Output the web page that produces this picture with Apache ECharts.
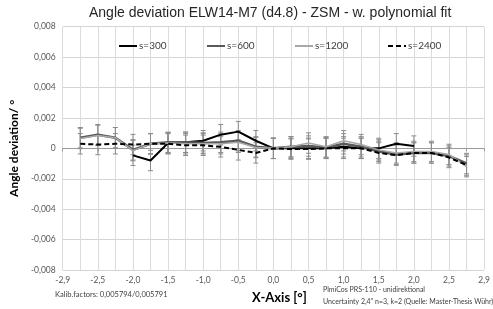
<!DOCTYPE html>
<html><head><meta charset="utf-8">
<script src="https://cdn.jsdelivr.net/npm/echarts@6/dist/echarts.min.js"></script>
<style>html,body{margin:0;padding:0;background:#fff}#c{width:493px;height:309px}</style>
</head><body><div id="c"></div>
<script>
// ---- data ----
const categories = [-2.9,-2.75,-2.5,-2.25,-2.0,-1.75,-1.5,-1.25,-1.0,-0.75,-0.5,-0.25,0,0.25,0.5,0.75,1.0,1.25,1.5,1.75,2.0,2.25,2.5,2.75,2.9];
const s300  = [null,null,null,null,-0.00046,-0.0008,0.00035,0.0004,0.0005,0.0009,0.0011,0.0005,0,0,0,0,0.0001,0,0,0.0003,0.00015,null,null,null,null];
const s600  = [null,0.0007,0.0009,0.0007,-0.0001,0.0003,0.0004,0.0004,0.00035,0.0004,0.0005,0.0001,0,0.0001,0.00015,0.00005,0.0003,0.0001,-0.0002,-0.0004,-0.0003,-0.0003,-0.0005,-0.001,null];
const s1200 = [null,0.00065,0.00085,0.0007,-0.00015,0.0003,0.00035,0.0003,0.0003,0.0003,0.0004,0.00005,0,0.0001,0.00035,0.0001,0.0005,0.00025,-0.0001,-0.0003,-0.0002,-0.0002,-0.0004,-0.0012,null];
const s2400 = [null,0.0003,0.00025,0.0003,0.00025,0.0003,0.0003,0.0002,0.0002,0.0001,-0.0001,-0.0003,0,-0.00005,-0.00005,0,0,0,-0.0003,-0.00045,-0.0003,-0.0003,-0.0006,-0.0011,null];
const uncertainty = 0.00067;
const seriesNames = ['s=300','s=600','s=1200','s=2400'];
const yTicks = {min:-0.008, max:0.008, step:0.002};
const titleText = 'Angle deviation ELW14-M7 (d4.8) - ZSM - w. polynomial fit';
const yName = 'Angle deviation/ °';
const xName = 'X-Axis [°]';
const noteLeft = 'Kalib.factors: 0,005794/0,005791';
const noteRight1 = 'PlmiCos PRS-110 - unidirektional';
const noteRight2 = 'Uncertainty 2,4" n=3, k=2 (Quelle: Master-Thesis Wühr)';

// ---- chart ----
const F = 'Lato, "Open Sans", sans-serif';
const chart = echarts.init(document.getElementById('c'), null, {renderer:'canvas'});
function errData(arr){
  const out=[];
  arr.forEach((v,i)=>{ if(v!==null) out.push([i, v-uncertainty, v+uncertainty]); });
  return out;
}
function errSeries(arr){
  return {
    type:'custom', silent:true, z:1, xAxisIndex:0, yAxisIndex:0,
    data: errData(arr),
    renderItem: function(params, api){
      const lo = api.coord([api.value(0), api.value(1)]);
      const hi = api.coord([api.value(0), api.value(2)]);
      const w = 2.5;
      const st = {stroke:'#8c8c8c', lineWidth:1};
      return {type:'group', children:[
        {type:'line', shape:{x1:lo[0],y1:lo[1],x2:hi[0],y2:hi[1]}, style:st},
        {type:'line', shape:{x1:lo[0]-w,y1:lo[1],x2:lo[0]+w,y2:lo[1]}, style:st},
        {type:'line', shape:{x1:hi[0]-w,y1:hi[1],x2:hi[0]+w,y2:hi[1]}, style:st}
      ]};
    }
  };
}
const styles = [
  {color:'#000000', width:2, type:'solid'},
  {color:'#5a5a5a', width:2.6, type:'solid'},
  {color:'#a8a8a8', width:1.5, type:'solid'},
  {color:'#000000', width:2, type:[5,3]}
];
const dataArr = [s300, s600, s1200, s2400];
const lineSeries = dataArr.map((d,k)=>({
  name: seriesNames[k], type:'line', data:d, symbol:'none', z:3+k,
  connectNulls:false, animation:false,
  lineStyle:{color:styles[k].color, width:styles[k].width, type:styles[k].type},
  itemStyle:{color:styles[k].color}
}));
const legendLefts = [118, 206, 294, 387];
const legends = seriesNames.map((n,k)=>({
  data:[n], left:legendLefts[k], top:41, itemWidth:18, itemHeight:10, itemGap:2,
  itemStyle:{opacity:0},
  textStyle:{fontFamily:F, fontSize:10, color:'#404040', padding:[0,0,0,-3]},
  selectedMode:false, padding:0
}));

chart.setOption({
  animation:false,
  title:{text:titleText, left:89, top:6, padding:0, textStyle:{fontFamily:'"Liberation Sans Narrow", "Liberation Sans", Arial, sans-serif', fontWeight:'normal', fontSize:14, color:'#262626'}},
  legend: legends,
  grid:{left:52, right:1.3, top:26.7, bottom:37, containLabel:false},
  xAxis:[{
    type:'category', data:categories, boundaryGap:false, position:'bottom',
    axisLine:{show:false, onZero:false}, axisTick:{show:false},
    axisLabel:{interval:1, formatter:v=>Number(v).toFixed(1).replace('.',','), fontFamily:F, fontSize:8.5, color:'#595959', margin:6},
    splitLine:{show:true, interval:0, lineStyle:{color:'#dcdcdc', width:1}},
    name:xName, nameLocation:'middle', nameGap:21,
    nameTextStyle:{fontFamily:F, fontSize:13, fontWeight:'bold', color:'#000', padding:[0,0,0,12]}
  },{
    type:'category', data:categories, boundaryGap:false, position:'top',
    axisLine:{show:true, onZero:true, lineStyle:{color:'#9a9a9a', width:1}},
    axisTick:{show:true, interval:0, inside:true, length:3, lineStyle:{color:'#9a9a9a'}},
    axisLabel:{show:false}, splitLine:{show:false}
  }],
  yAxis:{
    type:'value', min:yTicks.min, max:yTicks.max, interval:yTicks.step,
    axisLine:{show:false}, axisTick:{show:false},
    axisLabel:{formatter:v=>Math.abs(v)<1e-12?'0':v.toFixed(3).replace('.',','), fontFamily:F, fontSize:8.5, color:'#595959', margin:7},
    splitLine:{lineStyle:{color:'#d4d4d4', width:1}},
    name:yName, nameLocation:'middle', nameGap:34, nameRotate:90,
    nameTextStyle:{fontFamily:F, fontSize:12, fontWeight:'bold', color:'#000'}
  },
  series: [errSeries(s300), errSeries(s600), errSeries(s1200), errSeries(s2400)].concat(lineSeries),
  graphic:[
    {type:'text', left:55, top:291, style:{text:noteLeft, font:'7.5px '+F, fill:'#404040'}},
    {type:'text', left:323, top:286, style:{text:noteRight1, font:'7px '+F, fill:'#404040'}},
    {type:'text', left:323, top:298, style:{text:noteRight2, font:'7px '+F, fill:'#404040'}}
  ]
});
</script></body></html>
